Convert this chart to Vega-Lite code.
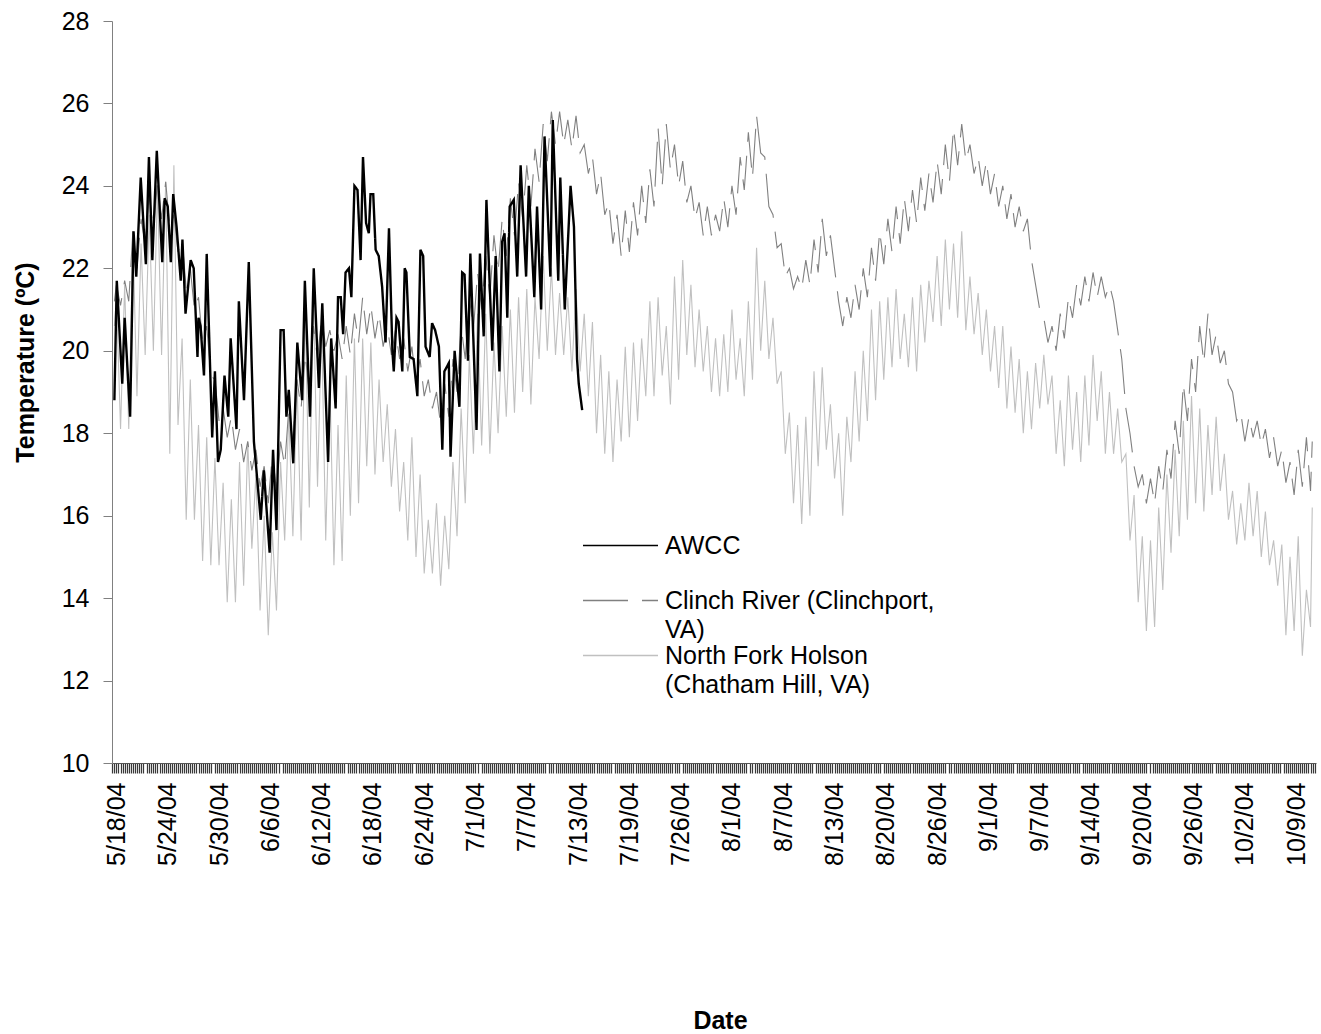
{
"$schema":"https://vega.github.io/schema/vega-lite/v6.json",
"width":1204,"height":742,
"autosize":{"type":"none"},
"padding":{"left":112,"top":21,"right":5,"bottom":271},
"config":{"view":{"stroke":null},"font":"Liberation Sans","axis":{"grid":false,"labelFont":"Liberation Sans","titleFont":"Liberation Sans"}},
"data":{"format":{"parse":{"t":"date:'%Y-%m-%d %H'"}},"values":[
{"s":"A","t":"2004-05-18 00","v":18.8},{"s":"A","t":"2004-05-18 07","v":21.7},{"s":"A","t":"2004-05-18 23","v":19.2},{"s":"A","t":"2004-05-19 06","v":20.8},{"s":"A","t":"2004-05-19 22","v":18.4},{"s":"A","t":"2004-05-20 08","v":22.9},{"s":"A","t":"2004-05-20 16","v":21.8},{"s":"A","t":"2004-05-21 05","v":24.2},{"s":"A","t":"2004-05-21 20","v":22.1},{"s":"A","t":"2004-05-22 05","v":24.7},{"s":"A","t":"2004-05-22 15","v":22.2},{"s":"A","t":"2004-05-23 04","v":24.85},{"s":"A","t":"2004-05-23 20","v":22.15},{"s":"A","t":"2004-05-24 03","v":23.7},{"s":"A","t":"2004-05-24 12","v":23.5},{"s":"A","t":"2004-05-24 21","v":22.15},{"s":"A","t":"2004-05-25 04","v":23.8},{"s":"A","t":"2004-05-25 14","v":23.0},{"s":"A","t":"2004-05-26 02","v":21.7},{"s":"A","t":"2004-05-26 07","v":22.7},{"s":"A","t":"2004-05-26 16","v":20.9},{"s":"A","t":"2004-05-27 07","v":22.2},{"s":"A","t":"2004-05-27 16","v":22.0},{"s":"A","t":"2004-05-28 03","v":19.85},{"s":"A","t":"2004-05-28 06","v":20.8},{"s":"A","t":"2004-05-28 12","v":20.6},{"s":"A","t":"2004-05-28 22","v":19.4},{"s":"A","t":"2004-05-29 06","v":22.35},{"s":"A","t":"2004-05-29 22","v":17.9},{"s":"A","t":"2004-05-30 06","v":19.5},{"s":"A","t":"2004-05-30 15","v":17.3},{"s":"A","t":"2004-05-30 23","v":17.6},{"s":"A","t":"2004-05-31 10","v":19.4},{"s":"A","t":"2004-05-31 21","v":18.4},{"s":"A","t":"2004-06-01 04","v":20.3},{"s":"A","t":"2004-06-01 21","v":18.1},{"s":"A","t":"2004-06-02 04","v":21.2},{"s":"A","t":"2004-06-02 19","v":18.8},{"s":"A","t":"2004-06-03 09","v":22.15},{"s":"A","t":"2004-06-04 00","v":17.8},{"s":"A","t":"2004-06-04 20","v":15.9},{"s":"A","t":"2004-06-05 05","v":17.1},{"s":"A","t":"2004-06-05 22","v":15.1},{"s":"A","t":"2004-06-06 08","v":17.6},{"s":"A","t":"2004-06-06 18","v":15.65},{"s":"A","t":"2004-06-07 06","v":20.5},{"s":"A","t":"2004-06-07 15","v":20.5},{"s":"A","t":"2004-06-07 23","v":18.4},{"s":"A","t":"2004-06-08 06","v":19.05},{"s":"A","t":"2004-06-08 19","v":17.27},{"s":"A","t":"2004-06-09 07","v":20.2},{"s":"A","t":"2004-06-09 21","v":18.8},{"s":"A","t":"2004-06-10 05","v":21.7},{"s":"A","t":"2004-06-10 20","v":18.4},{"s":"A","t":"2004-06-11 07","v":22.0},{"s":"A","t":"2004-06-11 22","v":19.1},{"s":"A","t":"2004-06-12 08","v":21.15},{"s":"A","t":"2004-06-13 01","v":17.3},{"s":"A","t":"2004-06-13 10","v":20.3},{"s":"A","t":"2004-06-13 23","v":18.6},{"s":"A","t":"2004-06-14 06","v":21.3},{"s":"A","t":"2004-06-14 14","v":21.3},{"s":"A","t":"2004-06-14 21","v":20.4},{"s":"A","t":"2004-06-15 04","v":21.9},{"s":"A","t":"2004-06-15 14","v":22.0},{"s":"A","t":"2004-06-15 21","v":21.3},{"s":"A","t":"2004-06-16 06","v":24.0},{"s":"A","t":"2004-06-16 15","v":23.9},{"s":"A","t":"2004-06-17 00","v":22.2},{"s":"A","t":"2004-06-17 07","v":24.7},{"s":"A","t":"2004-06-17 16","v":23.1},{"s":"A","t":"2004-06-18 00","v":22.85},{"s":"A","t":"2004-06-18 05","v":23.8},{"s":"A","t":"2004-06-18 13","v":23.8},{"s":"A","t":"2004-06-18 20","v":22.45},{"s":"A","t":"2004-06-19 05","v":22.3},{"s":"A","t":"2004-06-19 15","v":21.55},{"s":"A","t":"2004-06-20 01","v":20.2},{"s":"A","t":"2004-06-20 11","v":22.97},{"s":"A","t":"2004-06-20 21","v":20.0},{"s":"A","t":"2004-06-21 01","v":19.5},{"s":"A","t":"2004-06-21 09","v":20.8},{"s":"A","t":"2004-06-21 15","v":20.7},{"s":"A","t":"2004-06-22 02","v":19.5},{"s":"A","t":"2004-06-22 09","v":22.0},{"s":"A","t":"2004-06-22 14","v":21.9},{"s":"A","t":"2004-06-23 00","v":19.85},{"s":"A","t":"2004-06-23 11","v":19.8},{"s":"A","t":"2004-06-23 22","v":18.9},{"s":"A","t":"2004-06-24 07","v":22.45},{"s":"A","t":"2004-06-24 15","v":22.3},{"s":"A","t":"2004-06-24 22","v":20.1},{"s":"A","t":"2004-06-25 10","v":19.85},{"s":"A","t":"2004-06-25 17","v":20.67},{"s":"A","t":"2004-06-26 02","v":20.5},{"s":"A","t":"2004-06-26 13","v":20.1},{"s":"A","t":"2004-06-26 23","v":17.6},{"s":"A","t":"2004-06-27 05","v":19.5},{"s":"A","t":"2004-06-27 18","v":19.7},{"s":"A","t":"2004-06-27 23","v":17.43},{"s":"A","t":"2004-06-28 11","v":20.0},{"s":"A","t":"2004-06-29 01","v":18.64},{"s":"A","t":"2004-06-29 09","v":21.9},{"s":"A","t":"2004-06-29 16","v":21.85},{"s":"A","t":"2004-06-30 02","v":19.76},{"s":"A","t":"2004-06-30 09","v":22.36},{"s":"A","t":"2004-07-01 03","v":18.08},{"s":"A","t":"2004-07-01 13","v":22.36},{"s":"A","t":"2004-07-02 00","v":20.35},{"s":"A","t":"2004-07-02 08","v":23.66},{"s":"A","t":"2004-07-03 01","v":20.0},{"s":"A","t":"2004-07-03 11","v":22.3},{"s":"A","t":"2004-07-03 22","v":19.5},{"s":"A","t":"2004-07-04 06","v":22.65},{"s":"A","t":"2004-07-04 13","v":22.85},{"s":"A","t":"2004-07-04 21","v":20.8},{"s":"A","t":"2004-07-05 04","v":23.5},{"s":"A","t":"2004-07-05 16","v":23.66},{"s":"A","t":"2004-07-06 02","v":21.8},{"s":"A","t":"2004-07-06 12","v":24.5},{"s":"A","t":"2004-07-07 04","v":21.8},{"s":"A","t":"2004-07-07 12","v":24.0},{"s":"A","t":"2004-07-08 04","v":21.3},{"s":"A","t":"2004-07-08 12","v":23.5},{"s":"A","t":"2004-07-09 00","v":21.0},{"s":"A","t":"2004-07-09 10","v":25.2},{"s":"A","t":"2004-07-10 03","v":21.8},{"s":"A","t":"2004-07-10 10","v":25.6},{"s":"A","t":"2004-07-11 02","v":21.7},{"s":"A","t":"2004-07-11 08","v":24.2},{"s":"A","t":"2004-07-11 21","v":21.0},{"s":"A","t":"2004-07-12 14","v":24.0},{"s":"A","t":"2004-07-13 00","v":23.0},{"s":"A","t":"2004-07-13 09","v":19.8},{"s":"A","t":"2004-07-13 14","v":19.2},{"s":"A","t":"2004-07-14 00","v":18.56},
{"s":"C","t":"2004-05-18 00","v":21.2},{"s":"C","t":"2004-05-18 06","v":21.6},{"s":"C","t":"2004-05-18 18","v":21.1},{"s":"C","t":"2004-05-19 06","v":21.7},{"s":"C","t":"2004-05-19 18","v":21.2},{"s":"C","t":"2004-05-20 06","v":22.9},{"s":"C","t":"2004-05-20 18","v":22.0},{"s":"C","t":"2004-05-21 06","v":23.2},{"s":"C","t":"2004-05-21 18","v":22.6},{"s":"C","t":"2004-05-22 06","v":23.8},{"s":"C","t":"2004-05-22 18","v":22.9},{"s":"C","t":"2004-05-23 06","v":24.1},{"s":"C","t":"2004-05-23 18","v":23.2},{"s":"C","t":"2004-05-24 06","v":24.1},{"s":"C","t":"2004-05-24 18","v":23.0},{"s":"C","t":"2004-05-25 06","v":23.3},{"s":"C","t":"2004-05-25 18","v":22.4},{"s":"C","t":"2004-05-26 06","v":22.7},{"s":"C","t":"2004-05-26 18","v":21.5},{"s":"C","t":"2004-05-27 06","v":22.0},{"s":"C","t":"2004-05-27 18","v":21.0},{"s":"C","t":"2004-05-28 06","v":21.3},{"s":"C","t":"2004-05-28 18","v":20.2},{"s":"C","t":"2004-05-29 06","v":20.6},{"s":"C","t":"2004-05-29 18","v":19.4},{"s":"C","t":"2004-05-30 06","v":19.3},{"s":"C","t":"2004-05-30 18","v":18.3},{"s":"C","t":"2004-05-31 06","v":18.6},{"s":"C","t":"2004-05-31 18","v":17.9},{"s":"C","t":"2004-06-01 06","v":18.4},{"s":"C","t":"2004-06-01 18","v":17.6},{"s":"C","t":"2004-06-02 06","v":18.1},{"s":"C","t":"2004-06-02 18","v":17.3},{"s":"C","t":"2004-06-03 06","v":17.8},{"s":"C","t":"2004-06-03 18","v":17.1},{"s":"C","t":"2004-06-04 06","v":17.6},{"s":"C","t":"2004-06-04 18","v":16.7},{"s":"C","t":"2004-06-05 06","v":17.2},{"s":"C","t":"2004-06-05 18","v":16.3},{"s":"C","t":"2004-06-06 06","v":17.5},{"s":"C","t":"2004-06-06 18","v":16.6},{"s":"C","t":"2004-06-07 06","v":17.8},{"s":"C","t":"2004-06-07 18","v":17.2},{"s":"C","t":"2004-06-08 06","v":18.6},{"s":"C","t":"2004-06-08 18","v":17.8},{"s":"C","t":"2004-06-09 06","v":19.3},{"s":"C","t":"2004-06-09 18","v":18.6},{"s":"C","t":"2004-06-10 06","v":19.9},{"s":"C","t":"2004-06-10 18","v":19.0},{"s":"C","t":"2004-06-11 06","v":20.6},{"s":"C","t":"2004-06-11 18","v":19.8},{"s":"C","t":"2004-06-12 06","v":20.8},{"s":"C","t":"2004-06-12 18","v":20.1},{"s":"C","t":"2004-06-13 06","v":20.5},{"s":"C","t":"2004-06-13 18","v":20.0},{"s":"C","t":"2004-06-14 06","v":20.4},{"s":"C","t":"2004-06-14 18","v":19.8},{"s":"C","t":"2004-06-15 06","v":20.6},{"s":"C","t":"2004-06-15 18","v":19.9},{"s":"C","t":"2004-06-16 06","v":20.9},{"s":"C","t":"2004-06-16 18","v":20.2},{"s":"C","t":"2004-06-17 06","v":21.3},{"s":"C","t":"2004-06-17 18","v":20.4},{"s":"C","t":"2004-06-18 06","v":21.1},{"s":"C","t":"2004-06-18 18","v":20.3},{"s":"C","t":"2004-06-19 06","v":20.9},{"s":"C","t":"2004-06-19 18","v":20.1},{"s":"C","t":"2004-06-20 06","v":20.6},{"s":"C","t":"2004-06-20 18","v":19.9},{"s":"C","t":"2004-06-21 06","v":20.5},{"s":"C","t":"2004-06-21 18","v":19.8},{"s":"C","t":"2004-06-22 06","v":20.3},{"s":"C","t":"2004-06-22 18","v":19.5},{"s":"C","t":"2004-06-23 06","v":20.1},{"s":"C","t":"2004-06-23 18","v":19.2},{"s":"C","t":"2004-06-24 06","v":19.8},{"s":"C","t":"2004-06-24 18","v":18.9},{"s":"C","t":"2004-06-25 06","v":19.3},{"s":"C","t":"2004-06-25 18","v":18.6},{"s":"C","t":"2004-06-26 06","v":19.0},{"s":"C","t":"2004-06-26 18","v":18.2},{"s":"C","t":"2004-06-27 06","v":19.2},{"s":"C","t":"2004-06-27 18","v":18.4},{"s":"C","t":"2004-06-28 06","v":19.8},{"s":"C","t":"2004-06-28 18","v":19.0},{"s":"C","t":"2004-06-29 06","v":20.6},{"s":"C","t":"2004-06-29 18","v":19.8},{"s":"C","t":"2004-06-30 06","v":21.3},{"s":"C","t":"2004-06-30 18","v":20.5},{"s":"C","t":"2004-07-01 06","v":21.9},{"s":"C","t":"2004-07-01 18","v":21.0},{"s":"C","t":"2004-07-02 06","v":22.3},{"s":"C","t":"2004-07-02 18","v":21.3},{"s":"C","t":"2004-07-03 06","v":22.8},{"s":"C","t":"2004-07-03 18","v":21.9},{"s":"C","t":"2004-07-04 06","v":23.2},{"s":"C","t":"2004-07-04 18","v":22.3},{"s":"C","t":"2004-07-05 06","v":23.7},{"s":"C","t":"2004-07-05 18","v":22.8},{"s":"C","t":"2004-07-06 06","v":24.1},{"s":"C","t":"2004-07-06 18","v":23.2},{"s":"C","t":"2004-07-07 06","v":24.5},{"s":"C","t":"2004-07-07 18","v":23.5},{"s":"C","t":"2004-07-08 06","v":24.9},{"s":"C","t":"2004-07-08 18","v":24.1},{"s":"C","t":"2004-07-09 06","v":25.5},{"s":"C","t":"2004-07-09 18","v":24.6},{"s":"C","t":"2004-07-10 06","v":25.8},{"s":"C","t":"2004-07-10 18","v":25.0},{"s":"C","t":"2004-07-11 06","v":25.8},{"s":"C","t":"2004-07-11 18","v":25.0},{"s":"C","t":"2004-07-12 06","v":25.6},{"s":"C","t":"2004-07-12 18","v":24.9},{"s":"C","t":"2004-07-13 06","v":25.7},{"s":"C","t":"2004-07-13 18","v":24.8},{"s":"C","t":"2004-07-14 06","v":25.0},{"s":"C","t":"2004-07-14 18","v":24.3},{"s":"C","t":"2004-07-15 06","v":24.7},{"s":"C","t":"2004-07-15 18","v":23.8},{"s":"C","t":"2004-07-16 06","v":24.3},{"s":"C","t":"2004-07-16 18","v":23.3},{"s":"C","t":"2004-07-17 06","v":23.6},{"s":"C","t":"2004-07-17 18","v":22.6},{"s":"C","t":"2004-07-18 06","v":23.3},{"s":"C","t":"2004-07-18 18","v":22.3},{"s":"C","t":"2004-07-19 06","v":23.4},{"s":"C","t":"2004-07-19 18","v":22.4},{"s":"C","t":"2004-07-20 06","v":23.6},{"s":"C","t":"2004-07-20 18","v":22.8},{"s":"C","t":"2004-07-21 06","v":24.0},{"s":"C","t":"2004-07-21 18","v":23.1},{"s":"C","t":"2004-07-22 06","v":24.4},{"s":"C","t":"2004-07-22 18","v":23.5},{"s":"C","t":"2004-07-23 06","v":25.4},{"s":"C","t":"2004-07-23 18","v":24.0},{"s":"C","t":"2004-07-24 06","v":25.5},{"s":"C","t":"2004-07-24 18","v":24.4},{"s":"C","t":"2004-07-25 06","v":25.0},{"s":"C","t":"2004-07-25 18","v":24.0},{"s":"C","t":"2004-07-26 06","v":24.6},{"s":"C","t":"2004-07-26 18","v":23.6},{"s":"C","t":"2004-07-27 06","v":24.0},{"s":"C","t":"2004-07-27 18","v":23.2},{"s":"C","t":"2004-07-28 06","v":23.6},{"s":"C","t":"2004-07-28 18","v":22.8},{"s":"C","t":"2004-07-29 06","v":23.5},{"s":"C","t":"2004-07-29 18","v":22.8},{"s":"C","t":"2004-07-30 06","v":23.3},{"s":"C","t":"2004-07-30 18","v":22.9},{"s":"C","t":"2004-07-31 06","v":23.7},{"s":"C","t":"2004-07-31 18","v":23.0},{"s":"C","t":"2004-08-01 06","v":24.0},{"s":"C","t":"2004-08-01 18","v":23.3},{"s":"C","t":"2004-08-02 06","v":24.7},{"s":"C","t":"2004-08-02 18","v":23.9},{"s":"C","t":"2004-08-03 06","v":25.3},{"s":"C","t":"2004-08-03 18","v":24.2},{"s":"C","t":"2004-08-04 06","v":25.7},{"s":"C","t":"2004-08-04 18","v":24.8},{"s":"C","t":"2004-08-05 06","v":24.7},{"s":"C","t":"2004-08-05 18","v":23.5},{"s":"C","t":"2004-08-06 06","v":23.3},{"s":"C","t":"2004-08-06 18","v":22.5},{"s":"C","t":"2004-08-07 06","v":22.6},{"s":"C","t":"2004-08-07 18","v":21.8},{"s":"C","t":"2004-08-08 06","v":22.0},{"s":"C","t":"2004-08-08 18","v":21.5},{"s":"C","t":"2004-08-09 06","v":21.8},{"s":"C","t":"2004-08-09 18","v":21.5},{"s":"C","t":"2004-08-10 06","v":22.2},{"s":"C","t":"2004-08-10 18","v":21.6},{"s":"C","t":"2004-08-11 06","v":22.7},{"s":"C","t":"2004-08-11 18","v":21.9},{"s":"C","t":"2004-08-12 06","v":23.2},{"s":"C","t":"2004-08-12 18","v":22.3},{"s":"C","t":"2004-08-13 06","v":22.8},{"s":"C","t":"2004-08-13 18","v":22.0},{"s":"C","t":"2004-08-14 06","v":21.2},{"s":"C","t":"2004-08-14 18","v":20.6},{"s":"C","t":"2004-08-15 06","v":21.3},{"s":"C","t":"2004-08-15 18","v":20.8},{"s":"C","t":"2004-08-16 06","v":21.6},{"s":"C","t":"2004-08-16 18","v":21.0},{"s":"C","t":"2004-08-17 06","v":22.0},{"s":"C","t":"2004-08-17 18","v":21.3},{"s":"C","t":"2004-08-18 06","v":22.5},{"s":"C","t":"2004-08-18 18","v":21.7},{"s":"C","t":"2004-08-19 06","v":22.9},{"s":"C","t":"2004-08-19 18","v":22.1},{"s":"C","t":"2004-08-20 06","v":23.2},{"s":"C","t":"2004-08-20 18","v":22.4},{"s":"C","t":"2004-08-21 06","v":23.5},{"s":"C","t":"2004-08-21 18","v":22.6},{"s":"C","t":"2004-08-22 06","v":23.7},{"s":"C","t":"2004-08-22 18","v":22.9},{"s":"C","t":"2004-08-23 06","v":23.9},{"s":"C","t":"2004-08-23 18","v":23.1},{"s":"C","t":"2004-08-24 06","v":24.2},{"s":"C","t":"2004-08-24 18","v":23.4},{"s":"C","t":"2004-08-25 06","v":24.3},{"s":"C","t":"2004-08-25 18","v":23.6},{"s":"C","t":"2004-08-26 06","v":24.6},{"s":"C","t":"2004-08-26 18","v":23.8},{"s":"C","t":"2004-08-27 06","v":25.0},{"s":"C","t":"2004-08-27 18","v":24.1},{"s":"C","t":"2004-08-28 06","v":25.4},{"s":"C","t":"2004-08-28 18","v":24.5},{"s":"C","t":"2004-08-29 06","v":25.5},{"s":"C","t":"2004-08-29 18","v":24.6},{"s":"C","t":"2004-08-30 06","v":25.0},{"s":"C","t":"2004-08-30 18","v":24.3},{"s":"C","t":"2004-08-31 06","v":24.7},{"s":"C","t":"2004-08-31 18","v":24.0},{"s":"C","t":"2004-09-01 06","v":24.6},{"s":"C","t":"2004-09-01 18","v":23.8},{"s":"C","t":"2004-09-02 06","v":24.3},{"s":"C","t":"2004-09-02 18","v":23.5},{"s":"C","t":"2004-09-03 06","v":24.0},{"s":"C","t":"2004-09-03 18","v":23.2},{"s":"C","t":"2004-09-04 06","v":23.8},{"s":"C","t":"2004-09-04 18","v":23.0},{"s":"C","t":"2004-09-05 06","v":23.5},{"s":"C","t":"2004-09-05 18","v":22.9},{"s":"C","t":"2004-09-06 06","v":23.2},{"s":"C","t":"2004-09-06 18","v":22.2},{"s":"C","t":"2004-09-07 06","v":21.6},{"s":"C","t":"2004-09-07 18","v":21.0},{"s":"C","t":"2004-09-08 06","v":20.8},{"s":"C","t":"2004-09-08 18","v":20.2},{"s":"C","t":"2004-09-09 06","v":20.6},{"s":"C","t":"2004-09-09 18","v":20.0},{"s":"C","t":"2004-09-10 06","v":20.9},{"s":"C","t":"2004-09-10 18","v":20.3},{"s":"C","t":"2004-09-11 06","v":21.3},{"s":"C","t":"2004-09-11 18","v":20.8},{"s":"C","t":"2004-09-12 06","v":21.6},{"s":"C","t":"2004-09-12 18","v":21.1},{"s":"C","t":"2004-09-13 06","v":21.8},{"s":"C","t":"2004-09-13 18","v":21.2},{"s":"C","t":"2004-09-14 06","v":21.9},{"s":"C","t":"2004-09-14 18","v":21.3},{"s":"C","t":"2004-09-15 06","v":21.8},{"s":"C","t":"2004-09-15 18","v":21.3},{"s":"C","t":"2004-09-16 06","v":21.6},{"s":"C","t":"2004-09-16 18","v":21.2},{"s":"C","t":"2004-09-17 06","v":20.5},{"s":"C","t":"2004-09-17 18","v":19.8},{"s":"C","t":"2004-09-18 06","v":18.6},{"s":"C","t":"2004-09-18 18","v":18.0},{"s":"C","t":"2004-09-19 06","v":17.2},{"s":"C","t":"2004-09-19 18","v":16.7},{"s":"C","t":"2004-09-20 06","v":17.0},{"s":"C","t":"2004-09-20 18","v":16.3},{"s":"C","t":"2004-09-21 06","v":16.9},{"s":"C","t":"2004-09-21 18","v":16.3},{"s":"C","t":"2004-09-22 06","v":17.2},{"s":"C","t":"2004-09-22 18","v":16.6},{"s":"C","t":"2004-09-23 06","v":17.6},{"s":"C","t":"2004-09-23 18","v":16.9},{"s":"C","t":"2004-09-24 06","v":18.3},{"s":"C","t":"2004-09-24 18","v":17.5},{"s":"C","t":"2004-09-25 06","v":19.2},{"s":"C","t":"2004-09-25 18","v":18.3},{"s":"C","t":"2004-09-26 06","v":19.8},{"s":"C","t":"2004-09-26 18","v":19.0},{"s":"C","t":"2004-09-27 06","v":20.6},{"s":"C","t":"2004-09-27 18","v":19.7},{"s":"C","t":"2004-09-28 06","v":20.9},{"s":"C","t":"2004-09-28 18","v":19.9},{"s":"C","t":"2004-09-29 06","v":20.4},{"s":"C","t":"2004-09-29 18","v":19.7},{"s":"C","t":"2004-09-30 06","v":20.0},{"s":"C","t":"2004-09-30 18","v":19.2},{"s":"C","t":"2004-10-01 06","v":19.0},{"s":"C","t":"2004-10-01 18","v":18.3},{"s":"C","t":"2004-10-02 06","v":18.5},{"s":"C","t":"2004-10-02 18","v":17.8},{"s":"C","t":"2004-10-03 06","v":18.4},{"s":"C","t":"2004-10-03 18","v":17.9},{"s":"C","t":"2004-10-04 06","v":18.3},{"s":"C","t":"2004-10-04 18","v":17.7},{"s":"C","t":"2004-10-05 06","v":18.1},{"s":"C","t":"2004-10-05 18","v":17.4},{"s":"C","t":"2004-10-06 06","v":17.9},{"s":"C","t":"2004-10-06 18","v":17.2},{"s":"C","t":"2004-10-07 06","v":17.6},{"s":"C","t":"2004-10-07 18","v":16.8},{"s":"C","t":"2004-10-08 06","v":17.3},{"s":"C","t":"2004-10-08 18","v":16.5},{"s":"C","t":"2004-10-09 06","v":17.6},{"s":"C","t":"2004-10-09 18","v":16.7},{"s":"C","t":"2004-10-10 06","v":17.9},{"s":"C","t":"2004-10-10 18","v":16.6},{"s":"C","t":"2004-10-10 23","v":17.8},
{"s":"N","t":"2004-05-18 00","v":20.6},{"s":"N","t":"2004-05-18 06","v":21.3},{"s":"N","t":"2004-05-18 18","v":18.1},{"s":"N","t":"2004-05-19 06","v":21.6},{"s":"N","t":"2004-05-19 18","v":18.1},{"s":"N","t":"2004-05-20 06","v":22.8},{"s":"N","t":"2004-05-20 18","v":18.9},{"s":"N","t":"2004-05-21 06","v":22.6},{"s":"N","t":"2004-05-21 18","v":19.9},{"s":"N","t":"2004-05-22 06","v":23.3},{"s":"N","t":"2004-05-22 18","v":20.0},{"s":"N","t":"2004-05-23 06","v":24.0},{"s":"N","t":"2004-05-23 18","v":19.9},{"s":"N","t":"2004-05-24 06","v":24.1},{"s":"N","t":"2004-05-24 18","v":17.5},{"s":"N","t":"2004-05-25 06","v":24.5},{"s":"N","t":"2004-05-25 18","v":18.2},{"s":"N","t":"2004-05-26 06","v":20.3},{"s":"N","t":"2004-05-26 18","v":15.9},{"s":"N","t":"2004-05-27 06","v":19.3},{"s":"N","t":"2004-05-27 18","v":15.9},{"s":"N","t":"2004-05-28 06","v":18.2},{"s":"N","t":"2004-05-28 18","v":14.9},{"s":"N","t":"2004-05-29 06","v":17.9},{"s":"N","t":"2004-05-29 18","v":14.8},{"s":"N","t":"2004-05-30 06","v":17.4},{"s":"N","t":"2004-05-30 18","v":14.8},{"s":"N","t":"2004-05-31 06","v":16.8},{"s":"N","t":"2004-05-31 18","v":13.9},{"s":"N","t":"2004-06-01 06","v":16.4},{"s":"N","t":"2004-06-01 18","v":13.9},{"s":"N","t":"2004-06-02 06","v":17.3},{"s":"N","t":"2004-06-02 18","v":14.3},{"s":"N","t":"2004-06-03 06","v":17.8},{"s":"N","t":"2004-06-03 18","v":15.2},{"s":"N","t":"2004-06-04 06","v":17.0},{"s":"N","t":"2004-06-04 18","v":13.7},{"s":"N","t":"2004-06-05 06","v":16.0},{"s":"N","t":"2004-06-05 18","v":13.1},{"s":"N","t":"2004-06-06 06","v":15.6},{"s":"N","t":"2004-06-06 18","v":13.7},{"s":"N","t":"2004-06-07 06","v":17.3},{"s":"N","t":"2004-06-07 18","v":15.4},{"s":"N","t":"2004-06-08 06","v":18.5},{"s":"N","t":"2004-06-08 18","v":15.5},{"s":"N","t":"2004-06-09 06","v":19.3},{"s":"N","t":"2004-06-09 18","v":15.4},{"s":"N","t":"2004-06-10 06","v":21.0},{"s":"N","t":"2004-06-10 18","v":16.2},{"s":"N","t":"2004-06-11 06","v":21.3},{"s":"N","t":"2004-06-11 18","v":16.7},{"s":"N","t":"2004-06-12 06","v":20.6},{"s":"N","t":"2004-06-12 18","v":15.4},{"s":"N","t":"2004-06-13 06","v":19.3},{"s":"N","t":"2004-06-13 18","v":14.8},{"s":"N","t":"2004-06-14 06","v":18.2},{"s":"N","t":"2004-06-14 18","v":14.9},{"s":"N","t":"2004-06-15 06","v":19.4},{"s":"N","t":"2004-06-15 18","v":16.0},{"s":"N","t":"2004-06-16 06","v":20.3},{"s":"N","t":"2004-06-16 18","v":16.3},{"s":"N","t":"2004-06-17 06","v":20.3},{"s":"N","t":"2004-06-17 18","v":17.2},{"s":"N","t":"2004-06-18 06","v":20.2},{"s":"N","t":"2004-06-18 18","v":17.0},{"s":"N","t":"2004-06-19 06","v":19.3},{"s":"N","t":"2004-06-19 18","v":17.3},{"s":"N","t":"2004-06-20 06","v":18.7},{"s":"N","t":"2004-06-20 18","v":16.7},{"s":"N","t":"2004-06-21 06","v":18.1},{"s":"N","t":"2004-06-21 18","v":16.1},{"s":"N","t":"2004-06-22 06","v":17.3},{"s":"N","t":"2004-06-22 18","v":15.4},{"s":"N","t":"2004-06-23 06","v":17.9},{"s":"N","t":"2004-06-23 18","v":15.0},{"s":"N","t":"2004-06-24 06","v":17.0},{"s":"N","t":"2004-06-24 18","v":14.6},{"s":"N","t":"2004-06-25 06","v":15.9},{"s":"N","t":"2004-06-25 18","v":14.6},{"s":"N","t":"2004-06-26 06","v":16.3},{"s":"N","t":"2004-06-26 18","v":14.3},{"s":"N","t":"2004-06-27 06","v":16.0},{"s":"N","t":"2004-06-27 18","v":14.7},{"s":"N","t":"2004-06-28 06","v":17.3},{"s":"N","t":"2004-06-28 18","v":15.5},{"s":"N","t":"2004-06-29 06","v":18.6},{"s":"N","t":"2004-06-29 18","v":16.3},{"s":"N","t":"2004-06-30 06","v":19.9},{"s":"N","t":"2004-06-30 18","v":17.5},{"s":"N","t":"2004-07-01 06","v":20.9},{"s":"N","t":"2004-07-01 18","v":17.7},{"s":"N","t":"2004-07-02 06","v":20.9},{"s":"N","t":"2004-07-02 18","v":17.5},{"s":"N","t":"2004-07-03 06","v":20.2},{"s":"N","t":"2004-07-03 18","v":18.0},{"s":"N","t":"2004-07-04 06","v":20.6},{"s":"N","t":"2004-07-04 18","v":18.4},{"s":"N","t":"2004-07-05 06","v":21.0},{"s":"N","t":"2004-07-05 18","v":18.5},{"s":"N","t":"2004-07-06 06","v":21.3},{"s":"N","t":"2004-07-06 18","v":19.0},{"s":"N","t":"2004-07-07 06","v":21.5},{"s":"N","t":"2004-07-07 18","v":18.7},{"s":"N","t":"2004-07-08 06","v":21.3},{"s":"N","t":"2004-07-08 18","v":19.8},{"s":"N","t":"2004-07-09 06","v":22.3},{"s":"N","t":"2004-07-09 18","v":20.0},{"s":"N","t":"2004-07-10 06","v":22.0},{"s":"N","t":"2004-07-10 18","v":19.9},{"s":"N","t":"2004-07-11 06","v":21.4},{"s":"N","t":"2004-07-11 18","v":19.9},{"s":"N","t":"2004-07-12 06","v":21.3},{"s":"N","t":"2004-07-12 18","v":19.5},{"s":"N","t":"2004-07-13 06","v":21.5},{"s":"N","t":"2004-07-13 18","v":19.5},{"s":"N","t":"2004-07-14 06","v":20.9},{"s":"N","t":"2004-07-14 18","v":18.9},{"s":"N","t":"2004-07-15 06","v":20.7},{"s":"N","t":"2004-07-15 18","v":18.0},{"s":"N","t":"2004-07-16 06","v":19.9},{"s":"N","t":"2004-07-16 18","v":17.5},{"s":"N","t":"2004-07-17 06","v":19.5},{"s":"N","t":"2004-07-17 18","v":17.3},{"s":"N","t":"2004-07-18 06","v":19.3},{"s":"N","t":"2004-07-18 18","v":17.8},{"s":"N","t":"2004-07-19 06","v":20.1},{"s":"N","t":"2004-07-19 18","v":17.9},{"s":"N","t":"2004-07-20 06","v":20.2},{"s":"N","t":"2004-07-20 18","v":18.3},{"s":"N","t":"2004-07-21 06","v":20.3},{"s":"N","t":"2004-07-21 18","v":18.9},{"s":"N","t":"2004-07-22 06","v":21.2},{"s":"N","t":"2004-07-22 18","v":18.9},{"s":"N","t":"2004-07-23 06","v":21.3},{"s":"N","t":"2004-07-23 18","v":19.4},{"s":"N","t":"2004-07-24 06","v":20.6},{"s":"N","t":"2004-07-24 18","v":18.7},{"s":"N","t":"2004-07-25 06","v":21.8},{"s":"N","t":"2004-07-25 18","v":19.3},{"s":"N","t":"2004-07-26 06","v":22.2},{"s":"N","t":"2004-07-26 18","v":19.9},{"s":"N","t":"2004-07-27 06","v":21.6},{"s":"N","t":"2004-07-27 18","v":19.6},{"s":"N","t":"2004-07-28 06","v":21.0},{"s":"N","t":"2004-07-28 18","v":19.5},{"s":"N","t":"2004-07-29 06","v":20.6},{"s":"N","t":"2004-07-29 18","v":19.0},{"s":"N","t":"2004-07-30 06","v":20.3},{"s":"N","t":"2004-07-30 18","v":18.9},{"s":"N","t":"2004-07-31 06","v":20.4},{"s":"N","t":"2004-07-31 18","v":19.0},{"s":"N","t":"2004-08-01 06","v":21.0},{"s":"N","t":"2004-08-01 18","v":19.3},{"s":"N","t":"2004-08-02 06","v":20.3},{"s":"N","t":"2004-08-02 18","v":18.9},{"s":"N","t":"2004-08-03 06","v":21.2},{"s":"N","t":"2004-08-03 18","v":19.3},{"s":"N","t":"2004-08-04 06","v":22.5},{"s":"N","t":"2004-08-04 18","v":20.0},{"s":"N","t":"2004-08-05 06","v":21.7},{"s":"N","t":"2004-08-05 18","v":19.8},{"s":"N","t":"2004-08-06 06","v":20.8},{"s":"N","t":"2004-08-06 18","v":19.2},{"s":"N","t":"2004-08-07 06","v":19.5},{"s":"N","t":"2004-08-07 18","v":17.5},{"s":"N","t":"2004-08-08 06","v":18.5},{"s":"N","t":"2004-08-08 18","v":16.3},{"s":"N","t":"2004-08-09 06","v":18.2},{"s":"N","t":"2004-08-09 18","v":15.8},{"s":"N","t":"2004-08-10 06","v":18.4},{"s":"N","t":"2004-08-10 18","v":16.0},{"s":"N","t":"2004-08-11 06","v":19.5},{"s":"N","t":"2004-08-11 18","v":17.2},{"s":"N","t":"2004-08-12 06","v":19.6},{"s":"N","t":"2004-08-12 18","v":17.6},{"s":"N","t":"2004-08-13 06","v":18.7},{"s":"N","t":"2004-08-13 18","v":16.9},{"s":"N","t":"2004-08-14 06","v":18.0},{"s":"N","t":"2004-08-14 18","v":16.0},{"s":"N","t":"2004-08-15 06","v":18.4},{"s":"N","t":"2004-08-15 18","v":17.3},{"s":"N","t":"2004-08-16 06","v":19.5},{"s":"N","t":"2004-08-16 18","v":17.8},{"s":"N","t":"2004-08-17 06","v":20.0},{"s":"N","t":"2004-08-17 18","v":18.3},{"s":"N","t":"2004-08-18 06","v":21.0},{"s":"N","t":"2004-08-18 18","v":18.8},{"s":"N","t":"2004-08-19 06","v":21.2},{"s":"N","t":"2004-08-19 18","v":19.3},{"s":"N","t":"2004-08-20 06","v":21.3},{"s":"N","t":"2004-08-20 18","v":19.6},{"s":"N","t":"2004-08-21 06","v":21.5},{"s":"N","t":"2004-08-21 18","v":19.8},{"s":"N","t":"2004-08-22 06","v":20.9},{"s":"N","t":"2004-08-22 18","v":19.6},{"s":"N","t":"2004-08-23 06","v":21.3},{"s":"N","t":"2004-08-23 18","v":19.5},{"s":"N","t":"2004-08-24 06","v":21.6},{"s":"N","t":"2004-08-24 18","v":20.2},{"s":"N","t":"2004-08-25 06","v":21.7},{"s":"N","t":"2004-08-25 18","v":20.7},{"s":"N","t":"2004-08-26 06","v":22.3},{"s":"N","t":"2004-08-26 18","v":20.6},{"s":"N","t":"2004-08-27 06","v":22.7},{"s":"N","t":"2004-08-27 18","v":21.0},{"s":"N","t":"2004-08-28 06","v":22.6},{"s":"N","t":"2004-08-28 18","v":20.8},{"s":"N","t":"2004-08-29 06","v":22.9},{"s":"N","t":"2004-08-29 18","v":20.5},{"s":"N","t":"2004-08-30 06","v":21.8},{"s":"N","t":"2004-08-30 18","v":20.4},{"s":"N","t":"2004-08-31 06","v":21.4},{"s":"N","t":"2004-08-31 18","v":19.9},{"s":"N","t":"2004-09-01 06","v":21.0},{"s":"N","t":"2004-09-01 18","v":19.5},{"s":"N","t":"2004-09-02 06","v":20.6},{"s":"N","t":"2004-09-02 18","v":19.1},{"s":"N","t":"2004-09-03 06","v":20.6},{"s":"N","t":"2004-09-03 18","v":18.6},{"s":"N","t":"2004-09-04 06","v":20.1},{"s":"N","t":"2004-09-04 18","v":18.5},{"s":"N","t":"2004-09-05 06","v":19.8},{"s":"N","t":"2004-09-05 18","v":18.0},{"s":"N","t":"2004-09-06 06","v":19.5},{"s":"N","t":"2004-09-06 18","v":18.1},{"s":"N","t":"2004-09-07 06","v":19.7},{"s":"N","t":"2004-09-07 18","v":18.6},{"s":"N","t":"2004-09-08 06","v":19.9},{"s":"N","t":"2004-09-08 18","v":18.7},{"s":"N","t":"2004-09-09 06","v":19.4},{"s":"N","t":"2004-09-09 18","v":17.5},{"s":"N","t":"2004-09-10 06","v":18.8},{"s":"N","t":"2004-09-10 18","v":17.2},{"s":"N","t":"2004-09-11 06","v":19.4},{"s":"N","t":"2004-09-11 18","v":17.6},{"s":"N","t":"2004-09-12 06","v":19.0},{"s":"N","t":"2004-09-12 18","v":17.3},{"s":"N","t":"2004-09-13 06","v":19.4},{"s":"N","t":"2004-09-13 18","v":17.7},{"s":"N","t":"2004-09-14 06","v":19.9},{"s":"N","t":"2004-09-14 18","v":18.3},{"s":"N","t":"2004-09-15 06","v":19.5},{"s":"N","t":"2004-09-15 18","v":17.5},{"s":"N","t":"2004-09-16 06","v":19.0},{"s":"N","t":"2004-09-16 18","v":17.5},{"s":"N","t":"2004-09-17 06","v":18.6},{"s":"N","t":"2004-09-17 18","v":17.3},{"s":"N","t":"2004-09-18 06","v":17.5},{"s":"N","t":"2004-09-18 18","v":15.4},{"s":"N","t":"2004-09-19 06","v":16.5},{"s":"N","t":"2004-09-19 18","v":13.9},{"s":"N","t":"2004-09-20 06","v":15.5},{"s":"N","t":"2004-09-20 18","v":13.2},{"s":"N","t":"2004-09-21 06","v":15.4},{"s":"N","t":"2004-09-21 18","v":13.3},{"s":"N","t":"2004-09-22 06","v":16.2},{"s":"N","t":"2004-09-22 18","v":14.2},{"s":"N","t":"2004-09-23 06","v":17.0},{"s":"N","t":"2004-09-23 18","v":15.1},{"s":"N","t":"2004-09-24 06","v":17.6},{"s":"N","t":"2004-09-24 18","v":15.5},{"s":"N","t":"2004-09-25 06","v":18.3},{"s":"N","t":"2004-09-25 18","v":15.9},{"s":"N","t":"2004-09-26 06","v":18.9},{"s":"N","t":"2004-09-26 18","v":16.3},{"s":"N","t":"2004-09-27 06","v":18.6},{"s":"N","t":"2004-09-27 18","v":16.1},{"s":"N","t":"2004-09-28 06","v":18.2},{"s":"N","t":"2004-09-28 18","v":16.5},{"s":"N","t":"2004-09-29 06","v":18.4},{"s":"N","t":"2004-09-29 18","v":16.6},{"s":"N","t":"2004-09-30 06","v":17.5},{"s":"N","t":"2004-09-30 18","v":15.9},{"s":"N","t":"2004-10-01 06","v":16.6},{"s":"N","t":"2004-10-01 18","v":15.3},{"s":"N","t":"2004-10-02 06","v":16.3},{"s":"N","t":"2004-10-02 18","v":15.4},{"s":"N","t":"2004-10-03 06","v":16.8},{"s":"N","t":"2004-10-03 18","v":15.5},{"s":"N","t":"2004-10-04 06","v":16.6},{"s":"N","t":"2004-10-04 18","v":15.0},{"s":"N","t":"2004-10-05 06","v":16.1},{"s":"N","t":"2004-10-05 18","v":14.8},{"s":"N","t":"2004-10-06 06","v":15.4},{"s":"N","t":"2004-10-06 18","v":14.3},{"s":"N","t":"2004-10-07 06","v":15.3},{"s":"N","t":"2004-10-07 18","v":13.1},{"s":"N","t":"2004-10-08 06","v":15.0},{"s":"N","t":"2004-10-08 18","v":13.2},{"s":"N","t":"2004-10-09 06","v":15.5},{"s":"N","t":"2004-10-09 18","v":12.6},{"s":"N","t":"2004-10-10 06","v":14.2},{"s":"N","t":"2004-10-10 18","v":13.3},{"s":"N","t":"2004-10-10 23","v":16.2}
]},
"encoding":{
  "x":{"field":"t","type":"temporal","scale":{"domain":[{"year":2004,"month":5,"date":17,"hours":17},{"year":2004,"month":10,"date":11,"hours":10}]},
       "axis":{"orient":"bottom","tickCount":580,
        "labelExpr":"(datum.value - datetime(2004,4,18,6)) % 540000000 == 0 ? timeFormat(datum.value, '%-m/%-d/%y') : ''",
        "labelAngle":-90,"labelAlign":"right","labelBaseline":"middle","labelFontSize":25,"labelColor":"#000000","labelPadding":9,"labelOverlap":false,"labelFlush":false,"labelBound":false,
        "ticks":true,"tickSize":10,"tickWidth":1.2,
        "tickColor":{"condition":{"test":"((datum.value - datetime(2004,4,18)) / 86400000 + 810.13) % 8.14 < 0.125 || ((datum.value - datetime(2004,4,18)) / 86400000 + 810.13) % 8.14 > 8.015","value":"#ffffff"},"value":"#3a3a3a"},
        "domain":true,"domainColor":"#555555","domainWidth":1,
        "title":"Date","titleFontSize":25,"titleFontWeight":"bold","titleColor":"#000000","titleX":608,"titleY":257,"titleBaseline":"middle","titleAlign":"center"}},
  "y":{"field":"v","type":"quantitative","scale":{"domain":[10,28],"nice":false,"zero":false},
       "axis":{"values":[10,12,14,16,18,20,22,24,26,28],"tickSize":9,"tickColor":"#808080","domainColor":"#808080","labelFontSize":25,"labelColor":"#000000","labelPadding":14,
        "title":"Temperature (ºC)","titleFontSize":25,"titleFontWeight":"bold","titleColor":"#000000","titleX":-87,"titleY":341,"titleAngle":-90,"titleBaseline":"middle","titleAlign":"center"}},
  "color":{"field":"s","type":"nominal","scale":{"domain":["A","C","N"],"range":["#000000","#808080","#c0c0c0"]},
       "legend":{"orient":"none","legendX":496,"legendY":512,"title":null,"direction":"vertical","symbolType":"M-3.75,0H3.75","symbolSize":400,"symbolStrokeWidth":1.6,"labelFontSize":25,"labelFont":"Liberation Sans","labelColor":"#000000","labelOffset":32,"labelLimit":500,"rowPadding":0,"padding":0,"labelBaseline":"top",
        "labelExpr":"datum.value == 'A' ? ['AWCC', ''] : datum.value == 'C' ? ['Clinch River (Clinchport,', 'VA)'] : ['North Fork Holson', '(Chatham Hill, VA)']",
        "encode":{"labels":{"update":{"dy":{"value":-12},"lineHeight":{"value":29}}}}}},
  "strokeDash":{"field":"s","type":"nominal","scale":{"domain":["A","C","N"],"range":[[1,0],[45,14],[1,0]]},
       "legend":{"orient":"none","legendX":496,"legendY":512,"title":null,"direction":"vertical","symbolType":"M-3.75,0H3.75","symbolSize":400,"symbolStrokeWidth":1.6,"labelFontSize":25,"labelFont":"Liberation Sans","labelColor":"#000000","labelOffset":32,"labelLimit":500,"rowPadding":0,"padding":0,"labelBaseline":"top",
        "labelExpr":"datum.value == 'A' ? ['AWCC', ''] : datum.value == 'C' ? ['Clinch River (Clinchport,', 'VA)'] : ['North Fork Holson', '(Chatham Hill, VA)']",
        "encode":{"labels":{"update":{"dy":{"value":-12},"lineHeight":{"value":29}}}}}}
},
"layer":[
{"transform":[{"filter":"datum.s == 'N'"}],"mark":{"type":"line","strokeWidth":1.1}},
{"transform":[{"filter":"datum.s == 'C'"}],"mark":{"type":"line","strokeWidth":1.1}},
{"transform":[{"filter":"datum.s == 'A'"}],"mark":{"type":"line","strokeWidth":2.4}}
]
}
